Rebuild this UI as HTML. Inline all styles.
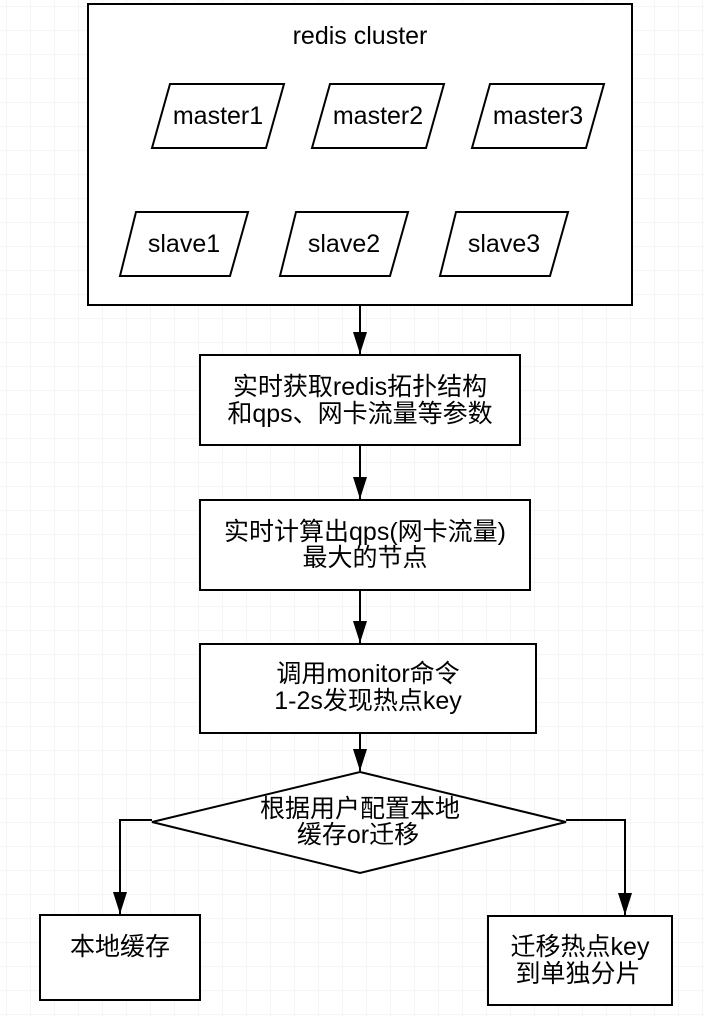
<!DOCTYPE html>
<html><head><meta charset="utf-8"><style>
html,body{margin:0;padding:0;background:#fff;}
body{width:704px;height:1016px;overflow:hidden;
background-image:linear-gradient(#f5f5f5 1px,transparent 1px),linear-gradient(90deg,#f5f5f5 1px,transparent 1px);
background-size:24px 24px;background-position:6px 6px;}
svg text{font-family:"Liberation Sans","Noto Sans CJK SC",sans-serif;font-size:25px;fill:#000;text-anchor:middle;}
</style></head><body>
<svg width="704" height="1016" viewBox="0 0 704 1016" xmlns="http://www.w3.org/2000/svg" style="position:absolute;left:0;top:0">
<defs><marker id="a" markerWidth="22" markerHeight="14" refX="22" refY="7" orient="auto" markerUnits="userSpaceOnUse" viewBox="0 0 22 14"><path d="M0,0 L22,7 L0,14 Z" fill="#000"/></marker></defs>
<g fill="#fff" stroke="#000" stroke-width="2">
<rect x="88" y="4" width="544" height="301"/>
<polygon points="170,84 284,84 266,148 152,148"/>
<polygon points="330,84 444,84 426,148 312,148"/>
<polygon points="490,84 604,84 586,148 472,148"/>
<polygon points="136,212 248,212 230,276 120,276"/>
<polygon points="296,212 408,212 390,276 280,276"/>
<polygon points="456,212 568,212 550,276 440,276"/>
<rect x="200" y="355" width="320" height="90"/>
<rect x="200" y="500" width="330" height="90"/>
<rect x="200" y="644" width="336" height="89"/>
<polygon points="360,772 566,822 360,873 152,822"/>
<rect x="40" y="915" width="160" height="85"/>
<rect x="488" y="916" width="184" height="89"/>
</g>
<g fill="none" stroke="#000" stroke-width="2">
<path d="M360,305 V354" marker-end="url(#a)"/>
<path d="M360,445 V499" marker-end="url(#a)"/>
<path d="M360,590 V643" marker-end="url(#a)"/>
<path d="M360,733 V771" marker-end="url(#a)"/>
<path d="M152,820 H120 V914" marker-end="url(#a)"/>
<path d="M566,820 H625 V915" marker-end="url(#a)"/>
</g>
<text x="360" y="44">redis cluster</text>
<text x="218" y="124">master1</text>
<text x="378" y="124">master2</text>
<text x="538" y="124">master3</text>
<text x="184" y="252">slave1</text>
<text x="344" y="252">slave2</text>
<text x="504" y="252">slave3</text>
<text x="360" y="395">实时获取redis拓扑结构</text>
<text x="360" y="422">和qps、网卡流量等参数</text>
<text x="365" y="540">实时计算出qps(网卡流量)</text>
<text x="365" y="566">最大的节点</text>
<text x="368" y="682">调用monitor命令</text>
<text x="368" y="709">1-2s发现热点key</text>
<text x="360" y="817">根据用户配置本地</text>
<text x="358" y="843">缓存or迁移</text>
<text x="120" y="955">本地缓存</text>
<text x="580" y="955">迁移热点key</text>
<text x="578" y="982">到单独分片</text>
</svg>
</body></html>
